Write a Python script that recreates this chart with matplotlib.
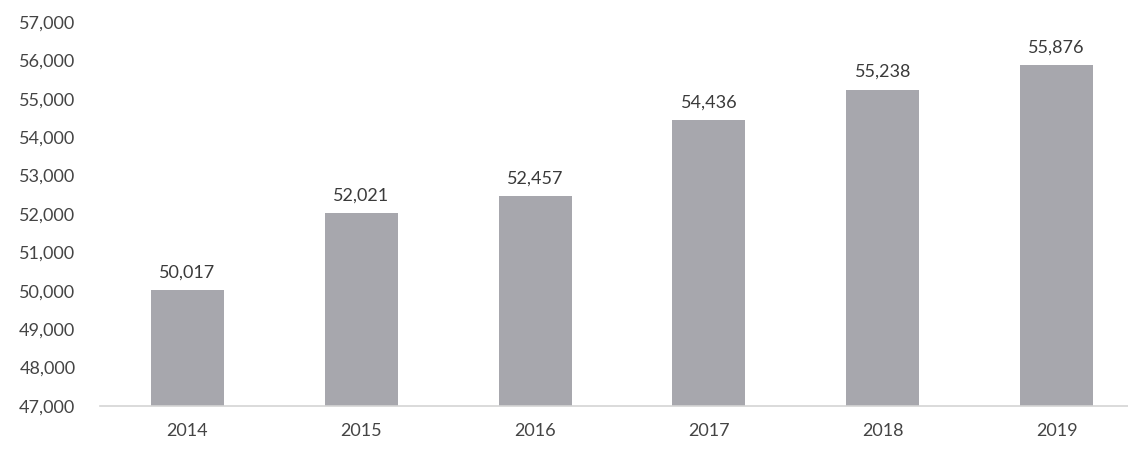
import matplotlib.pyplot as plt
from matplotlib.ticker import FuncFormatter

years = ["2014", "2015", "2016", "2017", "2018", "2019"]
values = [50017, 52021, 52457, 54436, 55238, 55876]

plt.rcParams["font.family"] = ["Lato", "DejaVu Sans"]

fig = plt.figure(figsize=(11.28, 4.5), dpi=100)
ax = fig.add_axes([0.089, 0.098, 0.911, 0.853])

x = range(len(years))
bars = ax.bar(x, values, width=0.42, color="#a7a7ad")

for b, v in zip(bars, values):
    ax.annotate("{:,}".format(v), (b.get_x() + b.get_width() / 2, v),
                xytext=(0, 7), textcoords="offset points",
                ha="center", va="bottom", fontsize=13, color="#3a3a3a")

ax.set_ylim(47000, 57000)
ax.set_xlim(-0.5, 5.41)
ax.set_yticks(range(47000, 57001, 1000))
ax.yaxis.set_major_formatter(FuncFormatter(lambda v, p: "{:,}".format(int(v))))
ax.set_xticks(list(x))
ax.set_xticklabels(years)
ax.tick_params(axis="both", length=0, labelsize=13, colors="#444444")
ax.tick_params(axis="y", pad=18)
ax.tick_params(axis="x", pad=12)

for s in ["top", "right", "left"]:
    ax.spines[s].set_visible(False)
ax.spines["bottom"].set_color("#d4d4d4")
ax.spines["bottom"].set_linewidth(1.2)

fig.savefig("out.png", dpi=100, facecolor="white")
